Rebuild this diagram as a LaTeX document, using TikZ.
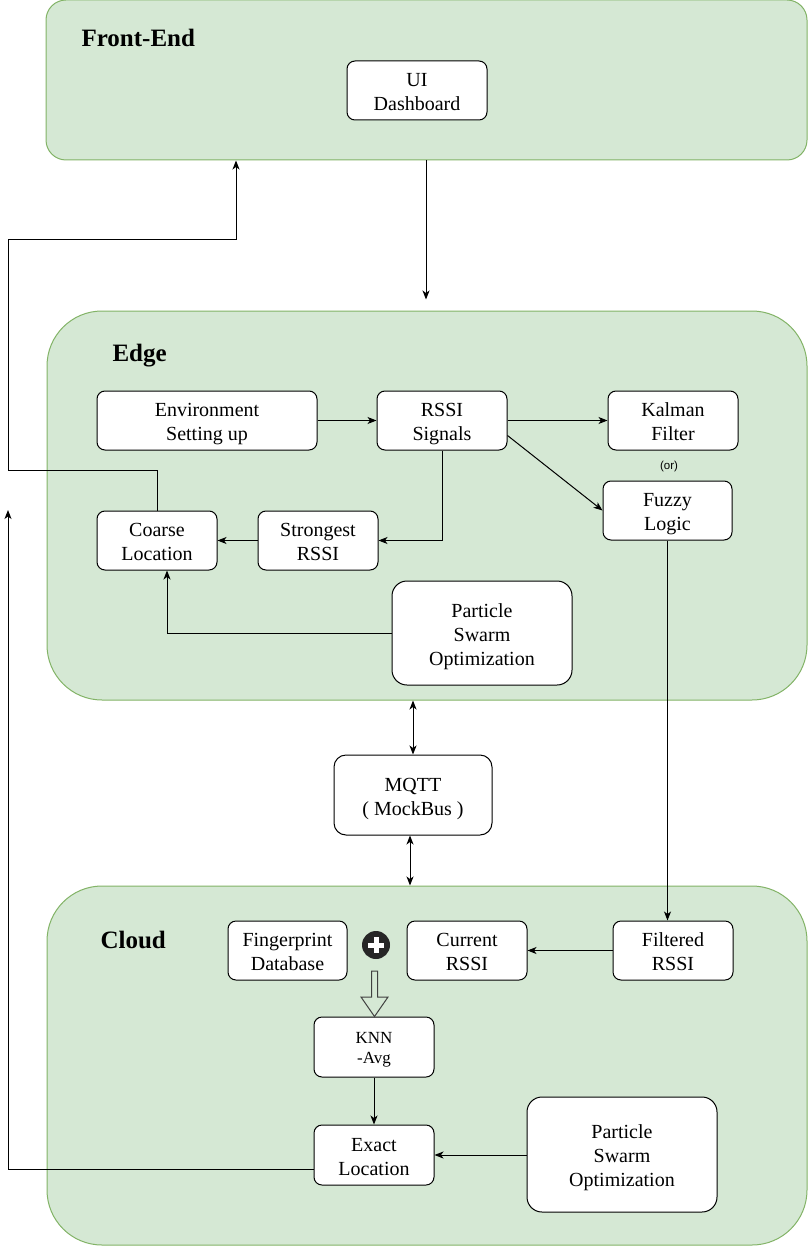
\documentclass[tikz,border=0pt]{standalone}
\usepackage{fontspec}
\setmainfont{Liberation Serif}
\newfontfamily\sansf{Liberation Sans}
\usetikzlibrary{arrows.meta,calc}
\definecolor{contfill}{RGB}{213,232,212}
\definecolor{contdraw}{RGB}{130,179,102}
\newcommand\tstrut{\rule{0pt}{23pt}}
\newcommand\bstrut{\rule[-7pt]{0pt}{7pt}}
\newcommand\tstruts{\rule{0pt}{19.5pt}}
\newcommand\bstruts{\rule[-6pt]{0pt}{6pt}}
\begin{document}
\begin{tikzpicture}[x=1pt,y=-1pt,
  cont/.style={draw=contdraw,fill=contfill,line width=1pt,inner sep=0pt},
  box/.style={draw=black,fill=white,rounded corners=8pt,line width=1pt,align=center,inner sep=0pt,
    font=\fontsize{20}{24}\selectfont},
  smallbox/.style={box,font=\fontsize{17}{20}\selectfont},
  bigbox/.style={box,rounded corners=15pt},
  ttl/.style={anchor=west,font=\fontsize{25}{29}\selectfont\bfseries},
  arr/.style={draw=black,line width=1pt,-{Stealth[length=9pt,width=7pt,inset=2.5pt]}},
  darr/.style={draw=black,line width=1pt,{Stealth[length=9pt,width=7pt,inset=2.5pt]}-{Stealth[length=9pt,width=7pt,inset=2.5pt]}}
]
\useasboundingbox (0,0) rectangle (808,1246);

% containers
\node[cont,rounded corners=20pt,minimum width=761pt,minimum height=160pt] (fe) at (426.5,80) {};
\node[cont,rounded corners=55pt,minimum width=760pt,minimum height=389pt] (edge) at (427,505.5) {};
\node[cont,rounded corners=55pt,minimum width=760pt,minimum height=359pt] (cloud) at (427,1065.5) {};

% titles
\node[ttl] (tfe) at (78,38) {Front-End};
\node[ttl] (tedge) at (109,356) {Edge};
\node[ttl] (tcloud) at (97,940) {Cloud};

% front-end
\node[box,minimum width=140pt,minimum height=59pt] (ui) at (417,90.5) {\tstrut UI\\Dashboard\bstrut};

% edge
\node[box,minimum width=220pt,minimum height=59pt] (env) at (207,420.5) {\tstrut Environment\\Setting up\bstrut};
\node[box,minimum width=130pt,minimum height=59pt] (rssi) at (442,420.5) {\tstrut RSSI\\Signals\bstrut};
\node[box,minimum width=130pt,minimum height=59pt] (kal) at (673,420.5) {\tstrut Kalman\\Filter\bstrut};
\node[font=\sansf\fontsize{11.5}{13}\selectfont] (or) at (669,467) {(or)};
\node[box,minimum width=129pt,minimum height=59pt] (fuzzy) at (667.5,510.5) {\tstrut Fuzzy\\Logic\bstrut};
\node[box,minimum width=120pt,minimum height=59pt] (strong) at (318,540.5) {\tstrut Strongest\\RSSI\bstrut};
\node[box,minimum width=120pt,minimum height=59pt] (coarse) at (157,540.5) {\tstrut Coarse\\Location\bstrut};
\node[bigbox,minimum width=180pt,minimum height=104pt] (psoE) at (482,633) {\tstrut Particle\\Swarm\\Optimization\bstrut};

% mqtt
\node[box,minimum width=158pt,minimum height=80pt,rounded corners=12pt] (mqtt) at (413,795) {\tstrut MQTT\\( MockBus )\bstrut};

% cloud
\node[box,minimum width=119pt,minimum height=59pt] (fp) at (287.5,950.5) {\tstrut Fingerprint\\Database\bstrut};
\node[box,minimum width=120pt,minimum height=59pt] (cur) at (467,950.5) {\tstrut Current\\RSSI\bstrut};
\node[box,minimum width=120pt,minimum height=59pt] (filt) at (673,950.5) {\tstrut Filtered\\RSSI\bstrut};
\node[smallbox,minimum width=120pt,minimum height=60pt] (knn) at (374,1047) {\tstruts KNN\\-Avg\bstruts};
\node[box,minimum width=120pt,minimum height=60pt] (exact) at (374,1155) {\tstrut Exact\\Location\bstrut};
\node[bigbox,minimum width=190pt,minimum height=115pt] (psoC) at (622,1154.5) {\tstrut Particle\\Swarm\\Optimization\bstrut};

% plus icon
\node[circle,fill=black!85,minimum size=28pt,inner sep=0pt] (plus) at (376,945) {};
\draw[white,line width=5pt] ($(plus.center)+(-8,0)$) -- ($(plus.center)+(8,0)$);
\draw[white,line width=5pt] ($(plus.center)+(0,-8)$) -- ($(plus.center)+(0,8)$);

% block arrow
\draw[draw=black!75,line width=1pt,line join=miter]
  (371.5,971) -- (377.5,971) -- (377.5,997) -- (388,997) -- (374.5,1016.5) -- (361,997) -- (371.5,997) -- cycle;

% coordinates for routed connectors
\coordinate (k1) at (8,470);
\coordinate (k2) at (236,240);
\coordinate (k3) at (8,510);

% connectors
\draw[arr] (ui.south |- fe.south) ++(9,0) coordinate (feout) -- ([yshift=11pt]feout |- edge.north);
\draw[arr] (env.east) -- (rssi.west);
\draw[arr] (rssi.east) -- (kal.west);
\draw[arr] ([yshift=-15pt]rssi.east) -- (fuzzy.west);
\draw[arr] (rssi.south) |- (strong.east);
\draw[arr] (strong.west) -- (coarse.east);
\draw[arr] (psoE.west) -| ([xshift=10pt]coarse.south);
\draw[arr] (coarse.north) |- (k1) |- (k2) -- (k2 |- fe.south);
\draw[arr] (fuzzy.south) -- (fuzzy.south |- filt.north);
\draw[darr] (mqtt.north |- edge.south) -- (mqtt.north);
\draw[darr] ([xshift=-3pt]mqtt.south) -- ([xshift=-3pt]mqtt.south |- cloud.north);
\draw[arr] (filt.west) -- (cur.east);
\draw[arr] (knn.south) -- (exact.north);
\draw[arr] (psoC.west |- exact.east) -- (exact.east);
\draw[arr] ([yshift=-14pt]exact.west) -| (k3);
\end{tikzpicture}
\end{document}
